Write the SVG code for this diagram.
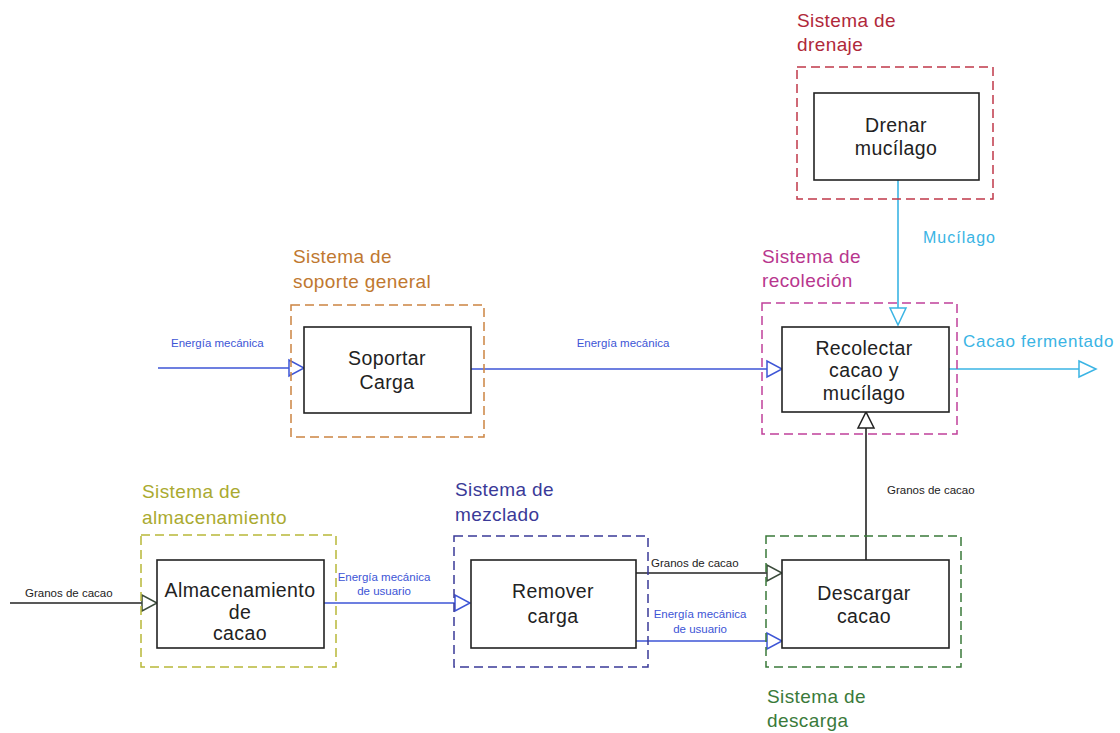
<svg xmlns="http://www.w3.org/2000/svg" width="1120" height="733" viewBox="0 0 1120 733">
<style>
text{font-family:"Liberation Sans",Arial,sans-serif}
.box{fill:#fff;stroke:#222;stroke-width:1.6}
.sys{fill:none;stroke-width:1.5;stroke-dasharray:9,5}
.nl{font-size:19.5px;fill:#222;text-anchor:middle;letter-spacing:0.4px}
.tl{font-size:19px;letter-spacing:0.4px}
.sm{font-size:11.5px}
.ln{fill:none;stroke-width:1.6}
.ah{fill:#fff;stroke-width:1.5}
</style>
<rect width="1120" height="733" fill="#fff"/>
<g id="connectors">
  <line class="ln" x1="898" y1="180" x2="898" y2="308" stroke="#3ab4e4"/>
  <polygon class="ah" points="890,308 906,308 898,325" stroke="#3ab4e4"/>
  <text x="923" y="243" font-size="16" letter-spacing="1" fill="#3ab4e4">Mucílago</text>
  <line class="ln" x1="949" y1="369" x2="1079" y2="369" stroke="#3ab4e4"/>
  <polygon class="ah" points="1079,361 1079,377 1096,369" stroke="#3ab4e4"/>
  <text x="963" y="347" font-size="17" letter-spacing="0.7" fill="#3ab4e4">Cacao fermentado</text>
  <line class="ln" x1="158" y1="368" x2="289" y2="368" stroke="#3d55d6"/>
  <polygon class="ah" points="289,360 289,376 304,368" stroke="#3d55d6"/>
  <text class="sm" x="171" y="347" fill="#3d55d6">Energía mecánica</text>
  <line class="ln" x1="471" y1="369" x2="767" y2="369" stroke="#3d55d6"/>
  <polygon class="ah" points="767,361 767,377 782,369" stroke="#3d55d6"/>
  <text class="sm" x="623" y="347" fill="#3d55d6" text-anchor="middle">Energía mecánica</text>
  <line class="ln" x1="866" y1="560" x2="866" y2="428" stroke="#222"/>
  <polygon class="ah" points="858,428 874,428 866,412" stroke="#222"/>
  <text class="sm" x="887" y="494" fill="#222">Granos de cacao</text>
  <line class="ln" x1="10" y1="603" x2="142" y2="603" stroke="#222"/>
  <polygon class="ah" points="142,595 142,611 157,603" stroke="#3a4a3a"/>
  <text class="sm" x="25" y="597" fill="#222">Granos de cacao</text>
  <line class="ln" x1="324" y1="603" x2="455" y2="603" stroke="#3d55d6"/>
  <polygon class="ah" points="455,595 455,611 470,603" stroke="#3d55d6"/>
  <text class="sm" x="384" y="581" fill="#3d55d6" text-anchor="middle">Energía mecánica</text>
  <text class="sm" x="384" y="595" fill="#3d55d6" text-anchor="middle">de usuario</text>
  <line class="ln" x1="636" y1="573" x2="767" y2="573" stroke="#222"/>
  <polygon class="ah" points="767,565 767,581 782,573" stroke="#3a4a3a"/>
  <text class="sm" x="651" y="567" fill="#222">Granos de cacao</text>
  <line class="ln" x1="636" y1="641" x2="767" y2="641" stroke="#3d55d6"/>
  <polygon class="ah" points="767,633 767,649 782,641" stroke="#3d55d6"/>
  <text class="sm" x="700" y="618" fill="#3d55d6" text-anchor="middle">Energía mecánica</text>
  <text class="sm" x="700" y="633" fill="#3d55d6" text-anchor="middle">de usuario</text>
</g>
<g id="drenaje">
  <rect class="sys" x="797" y="67" width="196" height="132" stroke="#c0394a"/>
  <text class="tl" x="797" y="27" fill="#b0283a">Sistema de</text>
  <text class="tl" x="797" y="51" fill="#b0283a">drenaje</text>
  <rect class="box" x="814" y="93" width="165" height="87"/>
  <text class="nl" x="896" y="132">Drenar</text>
  <text class="nl" x="896" y="155">mucílago</text>
</g>
<g id="recoleccion">
  <rect class="sys" x="762" y="303" width="195" height="131" stroke="#c0409a"/>
  <text class="tl" x="762" y="263" fill="#b8368e">Sistema de</text>
  <text class="tl" x="762" y="287" fill="#b8368e">recoleción</text>
  <rect class="box" x="782" y="327" width="167" height="85"/>
  <text class="nl" x="864" y="355">Recolectar</text>
  <text class="nl" x="864" y="377">cacao y</text>
  <text class="nl" x="864" y="400">mucílago</text>
</g>
<g id="soporte">
  <rect class="sys" x="291" y="305" width="193" height="132" stroke="#cc8442"/>
  <text class="tl" x="293" y="263" fill="#c07830">Sistema de</text>
  <text class="tl" x="293" y="288" fill="#c07830">soporte general</text>
  <rect class="box" x="304" y="327" width="167" height="86"/>
  <text class="nl" x="387" y="365">Soportar</text>
  <text class="nl" x="387" y="389">Carga</text>
</g>
<g id="almacenamiento">
  <rect class="sys" x="141" y="535" width="195" height="132" stroke="#b8b838"/>
  <text class="tl" x="142" y="498" fill="#aaaa30">Sistema de</text>
  <text class="tl" x="142" y="524" fill="#aaaa30">almacenamiento</text>
  <rect class="box" x="157" y="560" width="167" height="88"/>
  <text class="nl" x="240" y="597">Almacenamiento</text>
  <text class="nl" x="240" y="619">de</text>
  <text class="nl" x="240" y="640">cacao</text>
</g>
<g id="mezclado">
  <rect class="sys" x="454" y="536" width="194" height="131" stroke="#3a3a98"/>
  <text class="tl" x="455" y="496" fill="#3a3a98">Sistema de</text>
  <text class="tl" x="455" y="521" fill="#3a3a98">mezclado</text>
  <rect class="box" x="471" y="560" width="165" height="88"/>
  <text class="nl" x="553" y="598">Remover</text>
  <text class="nl" x="553" y="623">carga</text>
</g>
<g id="descarga">
  <rect class="sys" x="766" y="536" width="195" height="131" stroke="#3a7a3a"/>
  <text class="tl" x="767" y="703" fill="#3a7a3a">Sistema de</text>
  <text class="tl" x="767" y="727" fill="#3a7a3a">descarga</text>
  <rect class="box" x="782" y="560" width="167" height="88"/>
  <text class="nl" x="864" y="600">Descargar</text>
  <text class="nl" x="864" y="623">cacao</text>
</g>
</svg>
